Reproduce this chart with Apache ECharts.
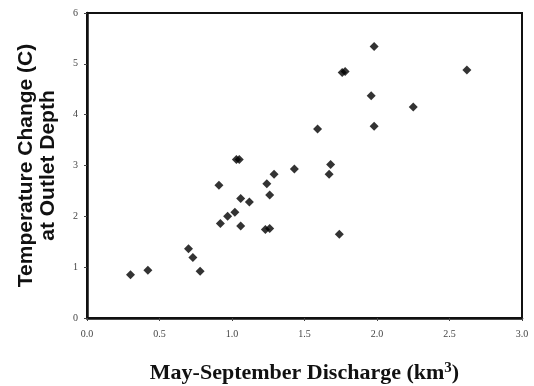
<!DOCTYPE html>
<html>
<head>
<meta charset="utf-8">
<script src="https://cdn.jsdelivr.net/npm/echarts@6/dist/echarts.min.js"></script>
<style>
  html, body { margin: 0; padding: 0; background: #fff; }
  #chart { width: 534px; height: 386px; }
</style>
</head>
<body>
<div id="chart"></div>
<script>
// discharge (km3) and temperature change (C) per year
const discharge = [
  0.30, 0.42, 0.70, 0.73, 0.78, 0.91, 0.92, 0.97, 1.02, 1.06, 1.06, 1.12,
  1.23, 1.26, 1.24, 1.26, 1.03, 1.05, 1.29, 1.43, 1.59, 1.68, 1.67, 1.74,
  1.76, 1.78, 1.96, 1.98, 1.98, 2.25, 2.62
];
const tempChange = [
  0.85, 0.94, 1.36, 1.19, 0.92, 2.61, 1.86, 2.00, 2.08, 2.35, 1.81, 2.28,
  1.74, 1.76, 2.64, 2.42, 3.12, 3.12, 2.83, 2.93, 3.72, 3.02, 2.83, 1.65,
  4.83, 4.85, 4.37, 5.34, 3.77, 4.15, 4.88
];
const xTicks = ['0.0', '0.5', '1.0', '1.5', '2.0', '2.5', '3.0'];

const points = discharge.map((d, i) => [d, tempChange[i]]);

const chart = echarts.init(document.getElementById('chart'));
chart.setOption({
  animation: false,
  backgroundColor: '#fff',
  grid: {
    left: 87, right: 12, top: 13, bottom: 68,
    outerBoundsMode: 'none',
    containLabel: false,
    show: true, borderColor: '#111', borderWidth: 2,
  },
  xAxis: {
    type: 'value',
    min: 0, max: 3, interval: 0.5,
    name: 'May-September Discharge (km{sup|3})',
    nameLocation: 'middle',
    nameGap: 43,
    nameTextStyle: {
      fontFamily: 'Liberation Serif', fontWeight: 'bold', fontSize: 22, color: '#111',
      rich: { sup: { fontFamily: 'Liberation Serif', fontWeight: 'bold', fontSize: 15, color: '#111', verticalAlign: 'top', padding: [0, 0, 10, 0] } },
    },
    axisLine: { lineStyle: { color: '#111', width: 2.5 } },
    axisTick: { lineStyle: { color: '#444' }, length: 3 },
    axisLabel: {
      fontFamily: 'Liberation Serif', fontSize: 10, color: '#444', margin: 11,
      formatter: (v) => xTicks[Math.round(v * 2)],
    },
    splitLine: { show: false },
  },
  yAxis: {
    type: 'value',
    min: 0, max: 6, interval: 1,
    name: 'Temperature Change (C)\nat Outlet Depth',
    nameLocation: 'middle',
    nameGap: 28,
    nameTextStyle: {
      fontFamily: 'Liberation Sans', fontWeight: 'bold', fontSize: 21, color: '#111', lineHeight: 22,
    },
    axisLine: { lineStyle: { color: '#111', width: 2.5 } },
    axisTick: { lineStyle: { color: '#444' }, length: 3 },
    axisLabel: { fontFamily: 'Liberation Serif', fontSize: 10, color: '#444', margin: 9 },
    splitLine: { show: false },
  },
  series: [{
    type: 'scatter',
    data: points,
    symbol: 'diamond',
    symbolSize: 9,
    itemStyle: { color: '#000' },
  }],
});
</script>
</body>
</html>
